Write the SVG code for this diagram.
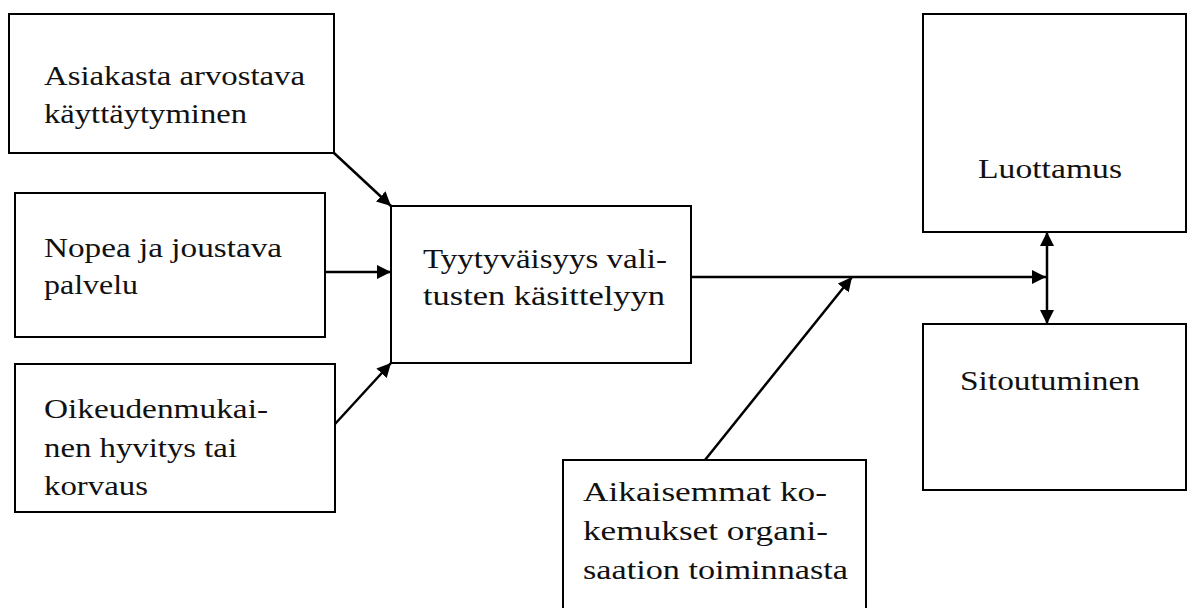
<svg xmlns="http://www.w3.org/2000/svg" width="1187" height="608" viewBox="0 0 1187 608">
<style>
.box{fill:#fff;stroke:#000;stroke-width:2}
.t{font-size:28px;fill:#111}
.c{stroke:#000;stroke-width:2.5;fill:none}
</style>
<defs>
<marker id="ah" viewBox="0 0 14 14" refX="14" refY="7" markerWidth="14" markerHeight="14" markerUnits="userSpaceOnUse" orient="auto-start-reverse">
<path d="M0,0 L14,7 L0,14 z" fill="#000"/>
</marker>
</defs>
<rect width="1187" height="608" fill="#fff"/>
<g id="nodes" font-family="'Liberation Serif', 'Times New Roman', serif">
<g id="n1"><rect class="box" x="9" y="14" width="325" height="139"/>
<text class="t" x="44" y="85" textLength="261" lengthAdjust="spacingAndGlyphs">Asiakasta arvostava</text><text class="t" x="44" y="123" textLength="203" lengthAdjust="spacingAndGlyphs">käyttäytyminen</text></g>
<g id="n2"><rect class="box" x="15" y="193" width="310" height="144"/>
<text class="t" x="44" y="257" textLength="238" lengthAdjust="spacingAndGlyphs">Nopea ja joustava</text><text class="t" x="44" y="294" textLength="94" lengthAdjust="spacingAndGlyphs">palvelu</text></g>
<g id="n3"><rect class="box" x="15" y="364" width="320" height="148"/>
<text class="t" x="44" y="418" textLength="224" lengthAdjust="spacingAndGlyphs">Oikeudenmukai-</text><text class="t" x="44" y="457" textLength="193" lengthAdjust="spacingAndGlyphs">nen hyvitys tai</text><text class="t" x="44" y="495" textLength="104" lengthAdjust="spacingAndGlyphs">korvaus</text></g>
<g id="n4"><rect class="box" x="391" y="206" width="300" height="157"/>
<text class="t" x="423" y="268" textLength="244" lengthAdjust="spacingAndGlyphs">Tyytyväisyys vali-</text><text class="t" x="423" y="305" textLength="242" lengthAdjust="spacingAndGlyphs">tusten käsittelyyn</text></g>
<g id="n5"><rect class="box" x="923" y="14" width="263" height="218"/>
<text class="t" x="978" y="178" textLength="144" lengthAdjust="spacingAndGlyphs">Luottamus</text></g>
<g id="n6"><rect class="box" x="923" y="324" width="263" height="166"/>
<text class="t" x="960" y="390" textLength="180" lengthAdjust="spacingAndGlyphs">Sitoutuminen</text></g>
<g id="n7"><rect class="box" x="563" y="460" width="303" height="160"/>
<text class="t" x="583" y="501" textLength="244" lengthAdjust="spacingAndGlyphs">Aikaisemmat ko-</text><text class="t" x="583" y="540" textLength="245" lengthAdjust="spacingAndGlyphs">kemukset organi-</text><text class="t" x="583" y="579" textLength="265" lengthAdjust="spacingAndGlyphs">saation toiminnasta</text></g>
</g>
<g id="connectors">
<line class="c" x1="334" y1="153" x2="391" y2="206" marker-end="url(#ah)"/>
<line class="c" x1="325" y1="272" x2="391" y2="272" marker-end="url(#ah)"/>
<line class="c" x1="335" y1="424" x2="391" y2="363" marker-end="url(#ah)"/>
<line class="c" x1="691" y1="277" x2="1046" y2="277" marker-end="url(#ah)"/>
<line class="c" x1="705" y1="460" x2="852" y2="277" marker-end="url(#ah)"/>
<line class="c" x1="1047" y1="232" x2="1047" y2="324" marker-start="url(#ah)" marker-end="url(#ah)"/>
</g>
</svg>
